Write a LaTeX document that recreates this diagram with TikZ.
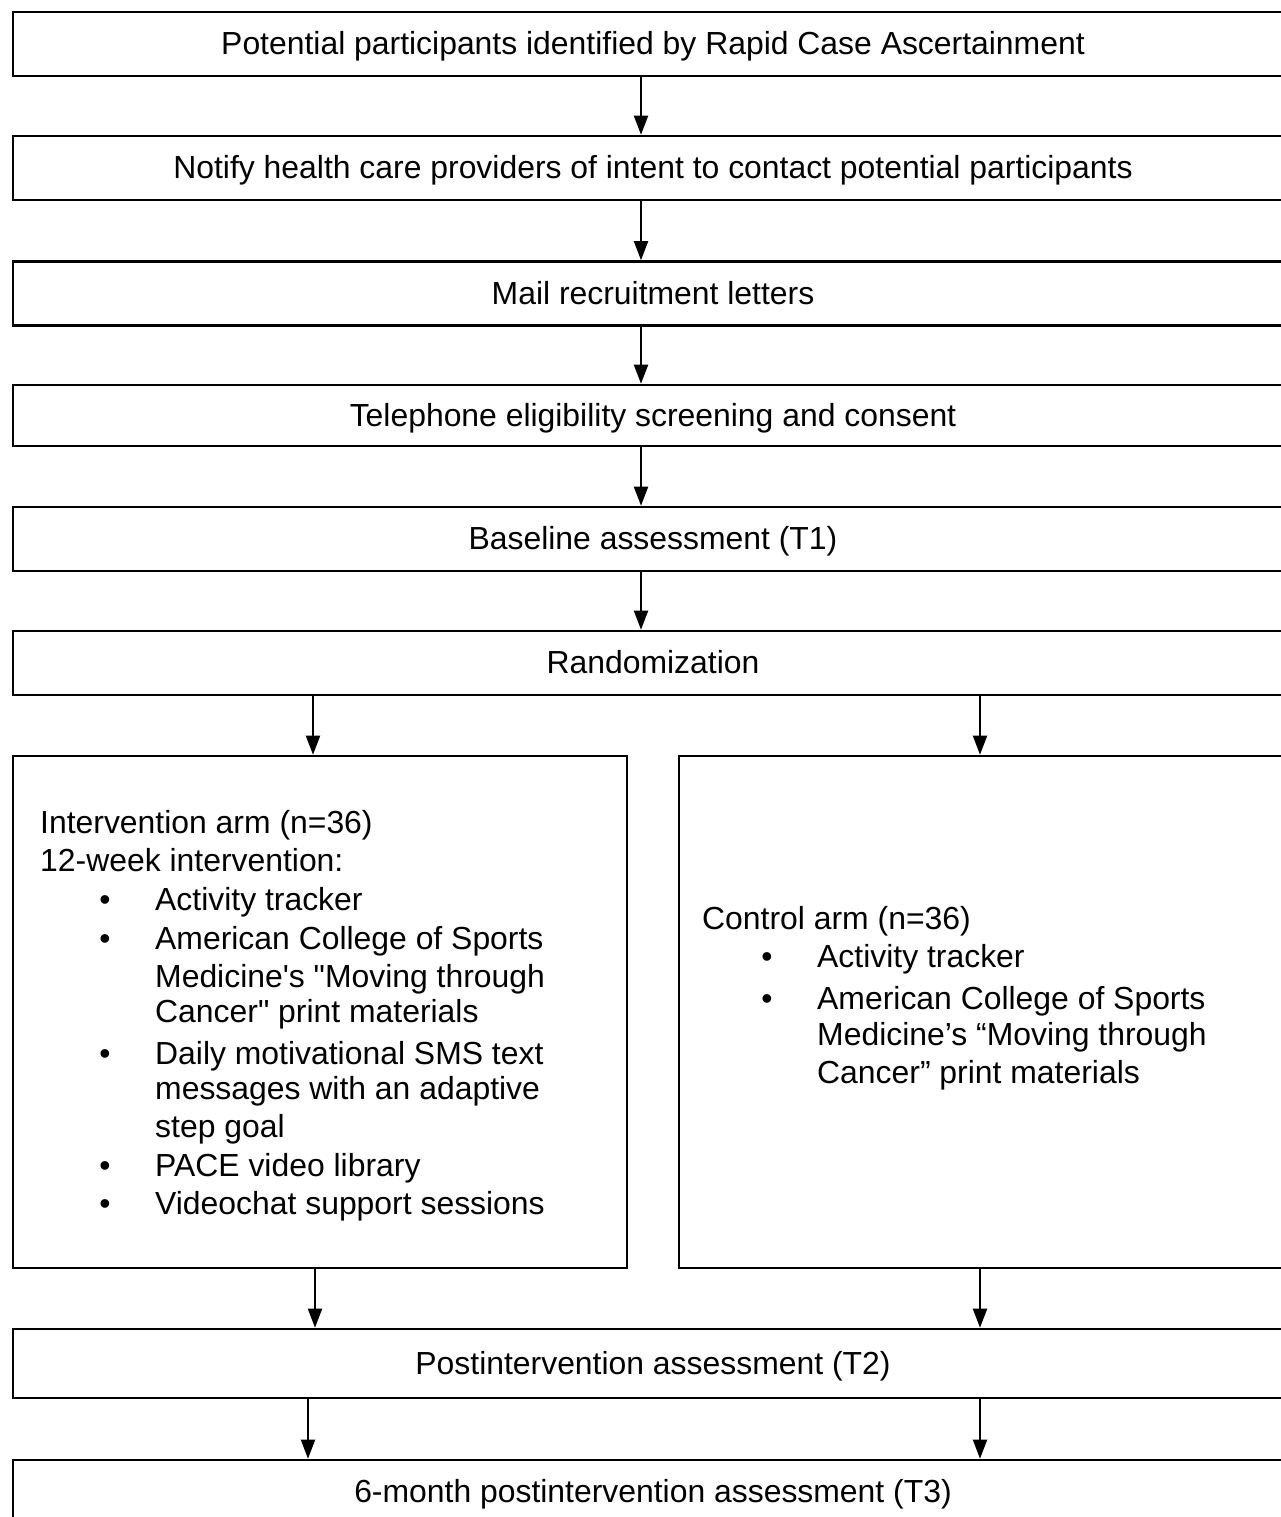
\documentclass[tikz,border=0pt]{standalone}
\usepackage{fontspec}
\setmainfont{Liberation Sans}
\newfontfamily\rawsans{Liberation Sans}
\usetikzlibrary{arrows.meta}
\begin{document}
\begin{tikzpicture}[x=1pt,y=-1pt,
  box/.style={draw=black, line width=2.6pt, rectangle, inner sep=0pt,
    minimum width=1280pt, minimum height=64pt,
    font=\fontsize{31.9}{38}\selectfont, text height=23pt, text depth=2pt},
  armbox/.style={draw=black, line width=2.6pt, rectangle, inner sep=0pt,
    minimum width=614pt, minimum height=512pt},
  txt/.style={anchor=base west, inner sep=0pt, font=\fontsize{31.9}{38}\selectfont},
  bul/.style={anchor=base, inner sep=0pt, font=\fontsize{31.9}{38}\selectfont},
  arr/.style={draw=black, line width=2pt, -{Triangle[length=19pt,width=14pt]}}
]
\useasboundingbox (0,0) rectangle (1280,1517);
\fill[white] (0,0) rectangle (1280,1517);

% main boxes
\node[box] (b1) at (653,44) {Potential participants identified by Rapid Case Ascertainment};
\node[box] (b2) at (653,168) {Notify health care providers of intent to contact potential participants};
\node[box] (b3) at (653,293.5) {Mail recruitment letters};
\node[box, minimum height=61pt] (b4) at (653,415.5) {Telephone eligibility screening and consent};
\node[box] (b5) at (653,539) {Baseline assessment (T1)};
\node[box] (b6) at (653,663) {Randomization};
\node[box, minimum height=69pt] (b7) at (653,1363.5) {Postintervention assessment (T2)};
\node[box] (b8) at (653,1492) {6-month postintervention assessment (T3)};

% arm boxes
\node[armbox] (ia) at (320,1012) {};
\node[armbox] (ca) at (986,1012) {};

% intervention text
\node[txt] (i1) at (40,833) {Intervention arm (n=36)};
\node[txt] (i2) at (40,871) {12-week intervention:};
\node[bul] (ib1) at (105,910) {•};
\node[txt] (i3) at (155,910) {Activity tracker};
\node[bul] (ib2) at (105,949) {•};
\node[txt] (i4) at (155,949) {American College of Sports};
\node[txt] (i5) at (155,987) {\rawsans Medicine's "Moving through};
\node[txt] (i6) at (155,1022) {\rawsans Cancer" print materials};
\node[bul] (ib3) at (105,1064) {•};
\node[txt] (i7) at (155,1064) {Daily motivational SMS text};
\node[txt] (i8) at (155,1099) {messages with an adaptive};
\node[txt] (i9) at (155,1137) {step goal};
\node[bul] (ib4) at (105,1176) {•};
\node[txt] (i10) at (155,1176) {PACE video library};
\node[bul] (ib5) at (105,1214) {•};
\node[txt] (i11) at (155,1214) {Videochat support sessions};

% control text
\node[txt] (c1) at (702,929) {Control arm (n=36)};
\node[bul] (cb1) at (767,967) {•};
\node[txt] (c2) at (817,967) {Activity tracker};
\node[bul] (cb2) at (767,1009) {•};
\node[txt] (c3) at (817,1009) {American College of Sports};
\node[txt] (c4) at (817,1045) {Medicine’s “Moving through};
\node[txt] (c5) at (817,1083) {Cancer” print materials};

% connector x positions
\coordinate (xm) at (641,0);
\coordinate (xl) at (313,0);
\coordinate (xl2) at (315,0);
\coordinate (xl3) at (308,0);
\coordinate (xr) at (980,0);

\draw[arr] (b1.south -| xm) -- (b2.north -| xm);
\draw[arr] (b2.south -| xm) -- (b3.north -| xm);
\draw[arr] (b3.south -| xm) -- (b4.north -| xm);
\draw[arr] (b4.south -| xm) -- (b5.north -| xm);
\draw[arr] (b5.south -| xm) -- (b6.north -| xm);
\draw[arr] (b6.south -| xl) -- (ia.north -| xl);
\draw[arr] (b6.south -| xr) -- (ca.north -| xr);
\draw[arr] (ia.south -| xl2) -- (b7.north -| xl2);
\draw[arr] (ca.south -| xr) -- (b7.north -| xr);
\draw[arr] (b7.south -| xl3) -- (b8.north -| xl3);
\draw[arr] (b7.south -| xr) -- (b8.north -| xr);
\end{tikzpicture}
\end{document}
